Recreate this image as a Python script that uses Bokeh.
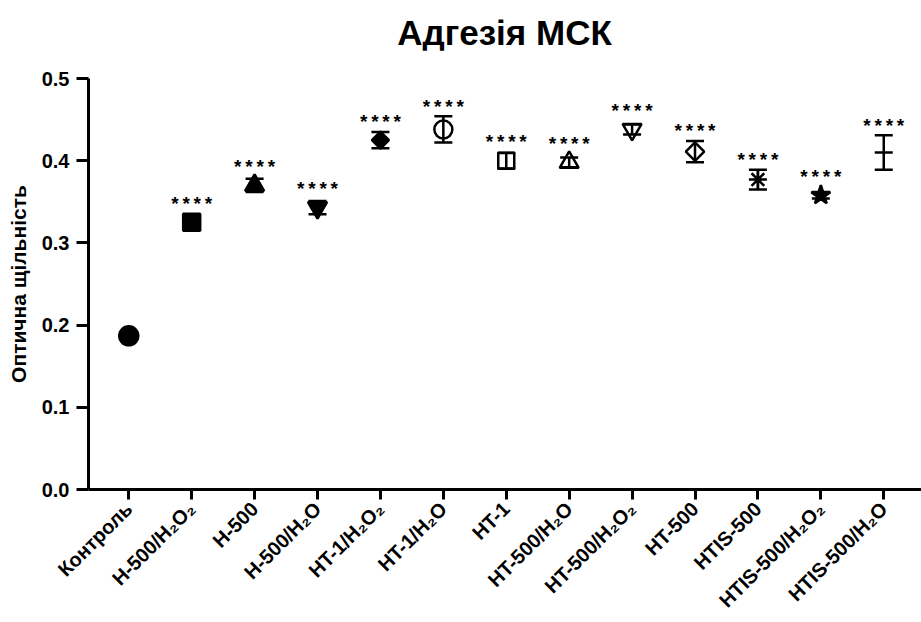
import numpy as np
from bokeh.plotting import figure
from bokeh.layouts import column
from bokeh.models import Range1d, FixedTicker, Whisker, ColumnDataSource, TeeHead, Div
from bokeh.core.properties import value
from bokeh.embed import file_html
from bokeh.resources import INLINE

# ---- data ----
title_text = "Адгезія МСК"
categories = ["Контроль", "H-500/H₂O₂", "H-500", "H-500/H₂O", "HT-1/H₂O₂", "HT-1/H₂O",
              "HT-1", "HT-500/H₂O", "HT-500/H₂O₂", "HT-500", "HTIS-500", "HTIS-500/H₂O₂",
              "HTIS-500/H₂O"]
means = [0.187, 0.325, 0.370, 0.343, 0.425, 0.438, 0.400, 0.398, 0.438, 0.411, 0.377, 0.358, 0.410]
errors = [0.004, 0.004, 0.008, 0.008, 0.010, 0.016, 0.0095, 0.006, 0.006, 0.013, 0.012, 0.004, 0.021]
significance = ["", "****", "****", "****", "****", "****", "****", "****", "****", "****",
                "****", "****", "****"]

# ---- marker styling ----
marker_types = ["circle", "square", "triangle", "inverted_triangle", "square", "circle",
                "square", "triangle", "inverted_triangle", "square", "asterisk", "star", "dash"]
marker_fill = ["black", "black", "black", "black", "black", None, None, None,
               None, None, "black", "black", "black"]
marker_size = [19, 17, 19, 19, 12, 18, 16, 19, 19, 13, 18, 20, 18]
marker_angle = [0, 0, 0, 0, np.pi / 4, 0, 0, 0, 0, np.pi / 4, 0, 0, 0]

FONT = "Liberation Sans"
X_LO, X_HI = -0.64, 12.6
TITLE_H = 50

xs = list(range(len(categories)))
m = np.array(means)
e = np.array(errors)

src = ColumnDataSource(dict(x=xs, y=means, marker=marker_types, fill=marker_fill,
                            size=marker_size, angle=marker_angle,
                            upper=(m + e).tolist(), lower=(m - e).tolist()))

title_div = Div(
    text=(f'<div style="width:833px;margin-left:88px;padding-top:16px;line-height:34px;'
          f'text-align:center;font-family:\'{FONT}\';font-size:35px;font-weight:bold;'
          f'color:black;white-space:nowrap;">{title_text}</div>'),
    width=921, height=TITLE_H, margin=0)

p = figure(width=921, height=622 - TITLE_H, output_backend="svg", toolbar_location=None,
           x_range=Range1d(X_LO, X_HI), y_range=Range1d(0, 0.5),
           min_border_left=88, min_border_right=0, min_border_top=78 - TITLE_H,
           min_border_bottom=133)
p.outline_line_color = None
p.xgrid.grid_line_color = None
p.ygrid.grid_line_color = None

p.scatter(x="x", y="y", marker="marker", size="size", angle="angle", fill_color="fill",
          line_color="black", line_width=2.5, source=src)

wh = Whisker(base="x", upper="upper", lower="lower", source=src, line_width=2.5,
             line_color="black", level="annotation",
             upper_head=TeeHead(size=18, line_width=2.5, line_color="black"),
             lower_head=TeeHead(size=18, line_width=2.5, line_color="black"))
p.add_layout(wh)

star_y = (m + np.maximum(e, 0.011)).tolist()
star_txt = ["\u2009".join(s) for s in significance]
p.text(x=xs, y=star_y, text=star_txt, text_align="center", text_baseline="alphabetic",
       y_offset=-10, text_font=value(FONT), text_font_size="19px", text_font_style="bold",
       text_color="black")

for ax in (p.xaxis[0], p.yaxis[0]):
    ax.axis_line_width = 3
    ax.major_tick_line_width = 3
    ax.minor_tick_line_color = None
    ax.major_tick_in = 0
    ax.major_label_text_font = FONT
    ax.major_label_text_font_style = "bold"
    ax.major_label_text_color = "black"

p.yaxis.ticker = FixedTicker(ticks=[0, 0.1, 0.2, 0.3, 0.4, 0.5])
p.yaxis.major_label_overrides = {0: "0.0", 0.1: "0.1", 0.2: "0.2", 0.3: "0.3", 0.4: "0.4", 0.5: "0.5"}
p.yaxis.major_tick_out = 12
p.yaxis.major_label_standoff = 7
p.yaxis.major_label_text_font_size = "20px"
p.yaxis.axis_label = "Оптична щільність"
p.yaxis.axis_label_text_font = FONT
p.yaxis.axis_label_text_font_size = "21px"
p.yaxis.axis_label_text_font_style = "bold"
p.yaxis.axis_label_text_color = "black"
p.yaxis.axis_label_standoff = 9

p.xaxis.ticker = FixedTicker(ticks=xs)
p.xaxis.major_label_overrides = {i: c for i, c in enumerate(categories)}
p.xaxis.major_label_orientation = np.pi / 4
p.xaxis.major_tick_out = 10
p.xaxis.major_label_standoff = 6
p.xaxis.major_label_text_font_size = "20px"

layout = column(title_div, p, spacing=0)
open("out.html", "w").write(file_html(layout, INLINE))
